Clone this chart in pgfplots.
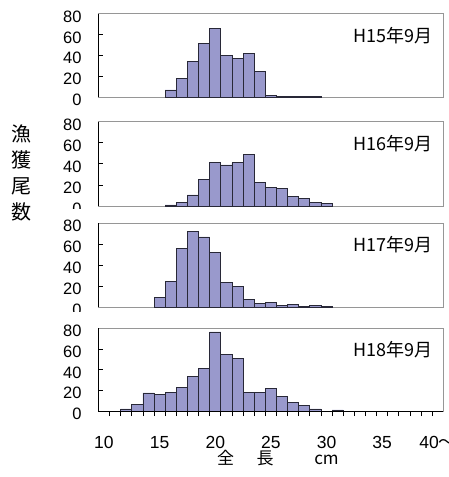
\documentclass[border=0pt]{standalone}
\usepackage{pgfplots}
\pgfplotsset{compat=1.18}
\usepackage{fontspec}
\setmainfont{Liberation Sans}
\newfontfamily\jp{Noto Sans CJK JP}
\definecolor{barfill}{RGB}{153,153,204}
\definecolor{baredge}{RGB}{40,40,55}
\definecolor{frame}{RGB}{150,150,150}
\pgfplotsset{
  panel/.style={
    scale only axis, width=345pt,
    xmin=9.5, xmax=40.5, ymin=0, ymax=80,
    ytick={0,20,40,60,80}, xtick=\empty,
    ytick pos=left, xtick pos=bottom, tick align=inside,
    major tick length=5pt,
    axis line style={draw=frame, line width=0.9pt},
    ytick style={draw=black, line width=0.8pt},
    /pgf/number format/assume math mode=true,
    yticklabel style={font=\fontsize{16.5}{18}\selectfont, anchor=base east, inner sep=0pt, xshift=-16.7pt, yshift=-8.5pt},
    ybar, bar width=1,
    clip=false,
  },
  bars/.style={fill=barfill, draw=baredge, line width=0.8pt},
}
\tikzset{yr/.style={font=\jp\fontsize{18}{18}\selectfont, anchor=east, inner sep=0pt, xshift=-10.4pt, yshift=-21.5pt}}
\begin{document}
\begin{tikzpicture}
\path[use as bounding box, clip] (0,0) rectangle (448pt,-477pt);
% H15
\begin{axis}[panel, at={(98.4pt,-97.3pt)}, anchor=south west, height=83.6pt]
\addplot[bars] coordinates {(16,7) (17,18) (18,34) (19,51.5) (20,66) (21,40) (22,37.5) (23,42) (24,24.5) (25,2) (26,0.5) (27,0.5) (28,0.5) (29,0.5)};
\draw[black, line width=0.9pt] (rel axis cs:0,0) -- (rel axis cs:0,1);
\node[yr] at (rel axis cs:1,1) {H15年9月};
\end{axis}
% H16
\begin{axis}[panel, at={(98.4pt,-206pt)}, anchor=south west, height=84.3pt]
\addplot[bars] coordinates {(16,1) (17,3.5) (18,10.5) (19,25) (20,41.5) (21,39) (22,41) (23,48.5) (24,22.5) (25,18) (26,16.5) (27,9) (28,7.5) (29,3.5) (30,2)};
\draw[black, line width=0.9pt] (rel axis cs:0,0) -- (rel axis cs:0,1);
\node[yr] at (rel axis cs:1,1) {H16年9月};
\end{axis}
\fill[white] (50pt,-208.5pt) rectangle (448pt,-477pt);
% H17
\begin{axis}[panel, at={(98.4pt,-307.3pt)}, anchor=south west, height=84pt]
\addplot[bars] coordinates {(15,9.5) (16,25) (17,56) (18,72) (19,67) (20,52) (21,23.5) (22,20) (23,7.5) (24,4) (25,4.5) (26,2) (27,3) (28,1) (29,2) (30,0.7)};
\draw[black, line width=0.9pt] (rel axis cs:0,0) -- (rel axis cs:0,1);
\node[yr] at (rel axis cs:1,1) {H17年9月};
\end{axis}
\fill[white] (50pt,-312pt) rectangle (448pt,-477pt);
% H18
\begin{axis}[panel, at={(98.4pt,-411pt)}, anchor=south west, height=82.7pt,
  xtick={10,15,20,25,30,35,40},
  xticklabels={10,15,20,25,30,35,{40{\jp ～}}},
  major x tick style={draw=none},
  minor xtick={10.5,11.5,...,39.5},
  minor tick length=5pt,
  minor x tick style={draw=black, line width=0.8pt},
  xticklabel style={font=\fontsize{17.5}{18}\selectfont, anchor=base, inner sep=0pt, yshift=-32.3pt},
]
\addplot[bars] coordinates {(12,2) (13,6.5) (14,17.5) (15,16) (16,18) (17,23) (18,33.5) (19,41) (20,76.5) (21,55) (22,50.5) (23,18) (24,18) (25,22) (26,14) (27,8.5) (28,5) (29,2) (31,1)};
\draw[black, line width=0.9pt] (rel axis cs:0,0) -- (rel axis cs:0,1) (rel axis cs:0,0) -- (rel axis cs:1,0);
\node[yr] at (rel axis cs:1,1) {H18年9月};
\end{axis}
\node[align=center, font=\jp\fontsize{20}{26}\selectfont, inner sep=0pt] at (21.5pt,-172.5pt) {漁\\獲\\尾\\数};
\node[font=\jp\fontsize{17}{17}\selectfont, anchor=base, inner sep=0pt] at (225.5pt,-464.5pt) {全};
\node[font=\jp\fontsize{17}{17}\selectfont, anchor=base, inner sep=0pt] at (265pt,-464.5pt) {長};
\node[font=\jp\fontsize{17}{17}\selectfont, anchor=base, inner sep=0pt] at (326.5pt,-464.5pt) {cm};
\end{tikzpicture}
\end{document}
